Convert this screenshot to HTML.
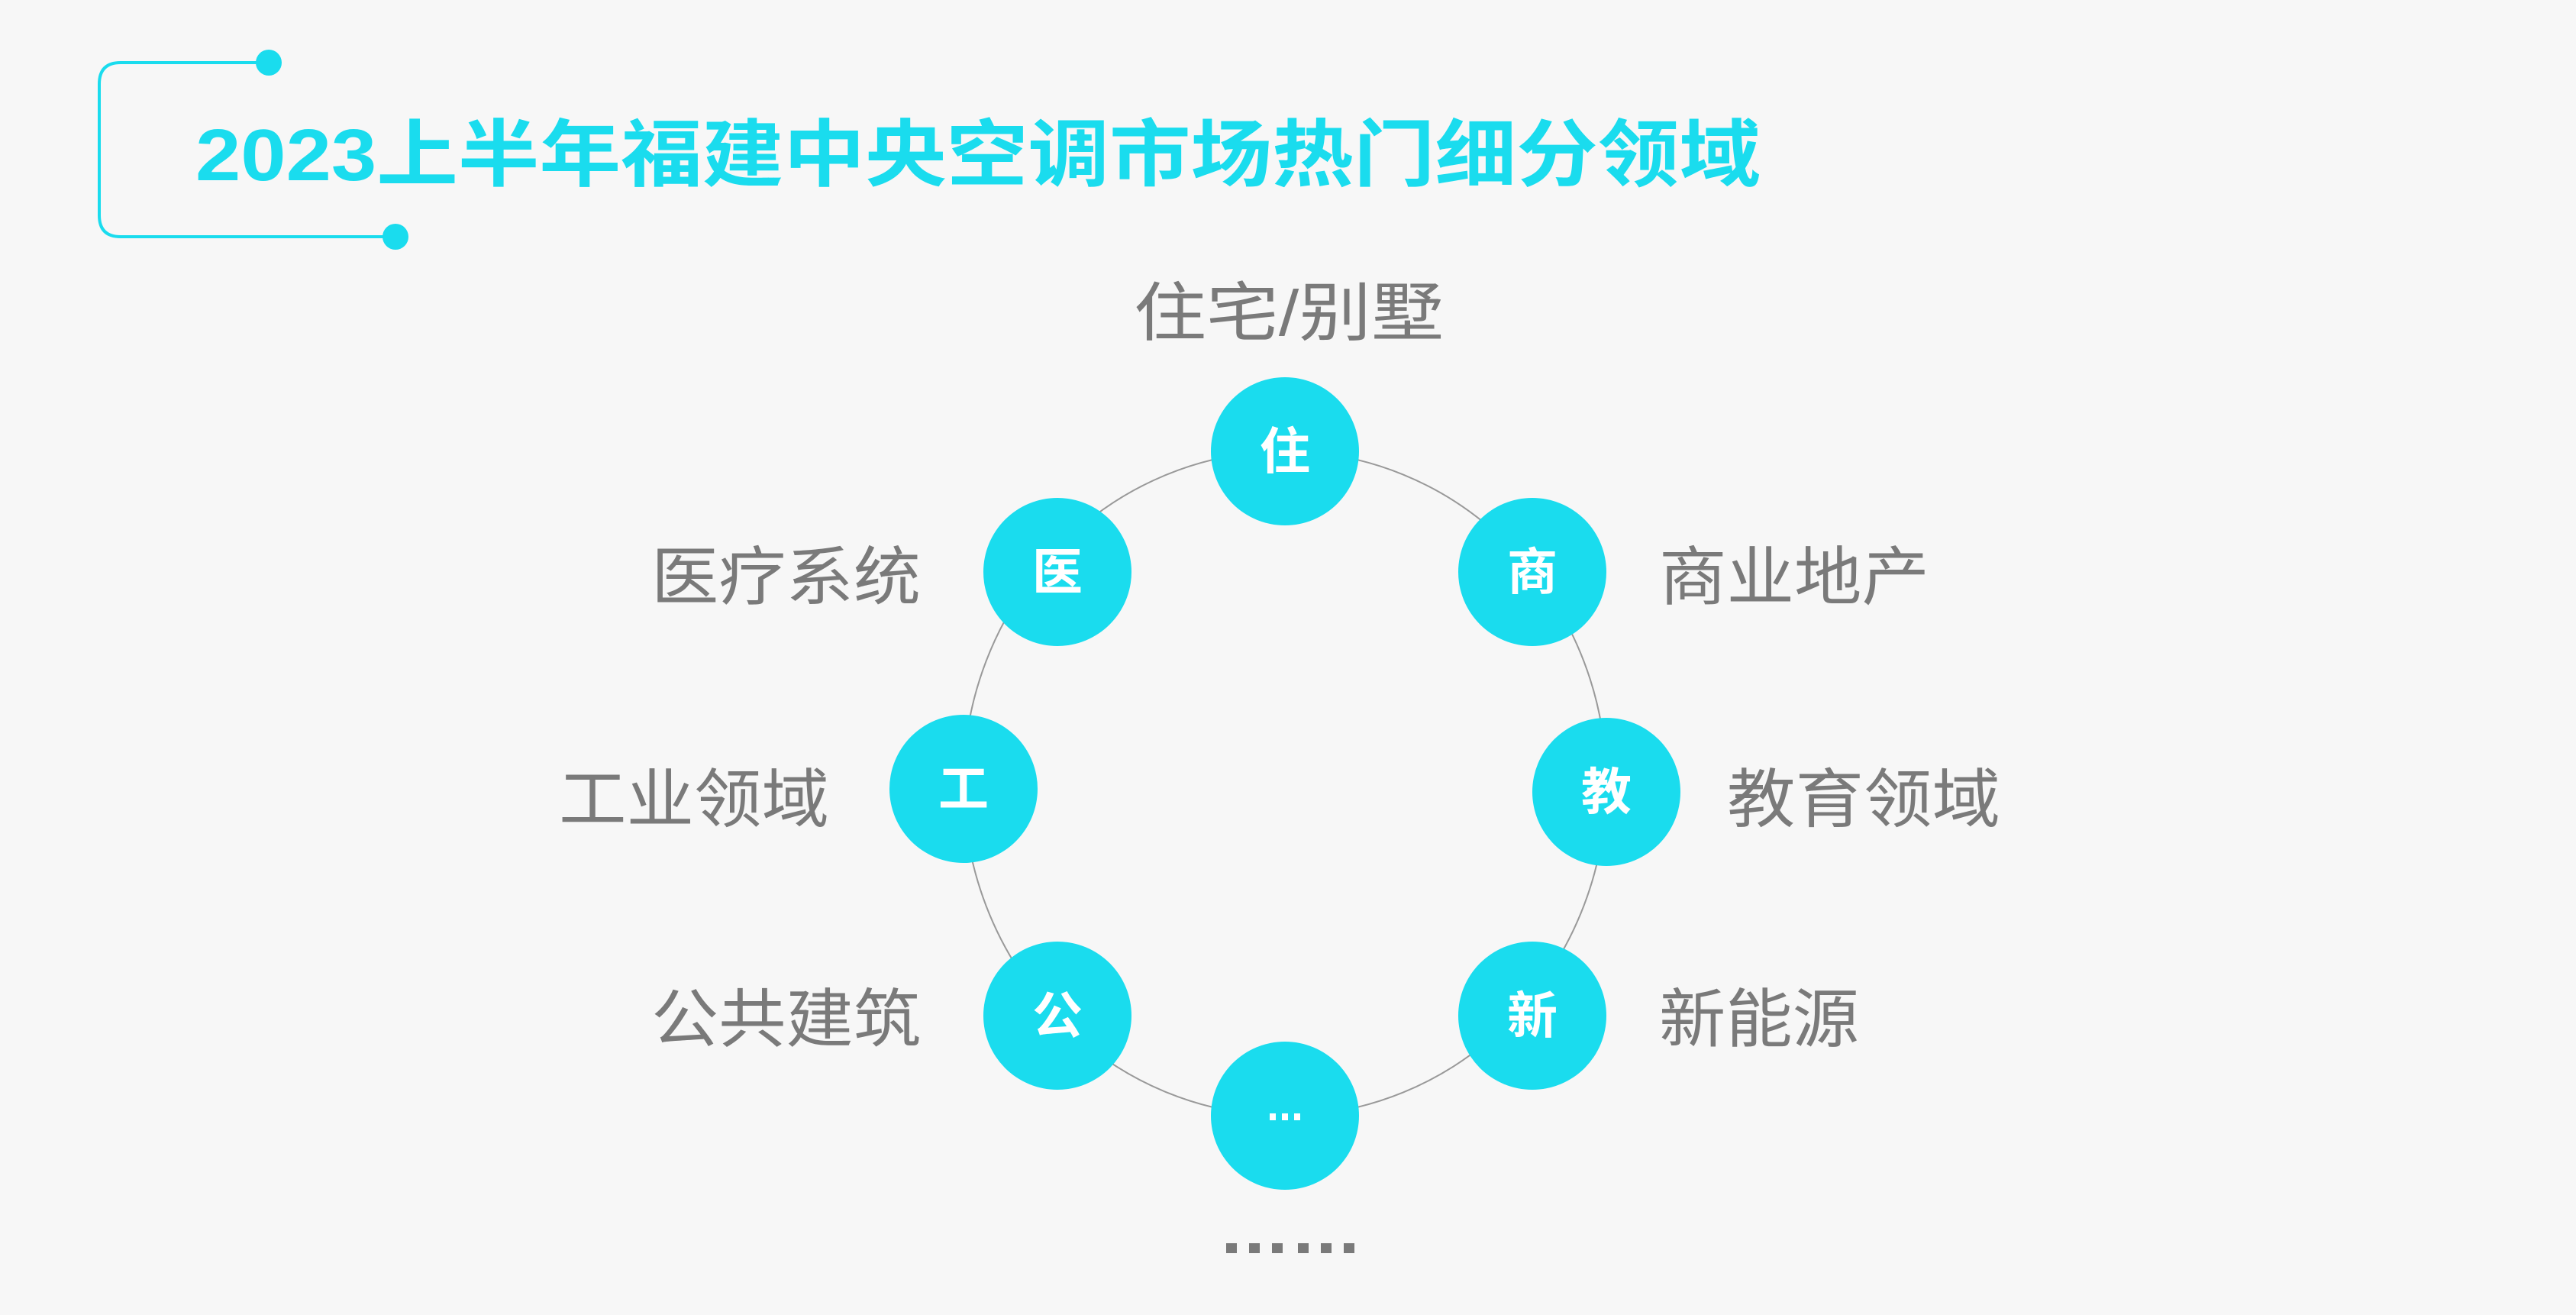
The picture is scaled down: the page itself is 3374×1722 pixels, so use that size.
<!DOCTYPE html>
<html><head><meta charset="utf-8"><style>
html,body{margin:0;padding:0;background:#f7f7f7;}
svg{display:block}
</style></head><body>
<svg width="3374" height="1722" viewBox="0 0 3374 1722" xmlns="http://www.w3.org/2000/svg">
<rect width="3374" height="1722" fill="#f7f7f7"/>
<g stroke="#1adcee" stroke-width="4" fill="none">
<path d="M352 82 H158 Q130 82 130 110 V282 Q130 310 158 310 H518"/>
</g>
<circle cx="352" cy="82" r="17" fill="#1adcee"/>
<circle cx="518" cy="310" r="17" fill="#1adcee"/>
<text x="256" y="236" font-family="Liberation Sans, Noto Sans CJK SC, sans-serif" font-weight="bold" font-size="96" fill="#1adcee" textLength="2050" lengthAdjust="spacingAndGlyphs">2023上半年福建中央空调市场热门细分领域</text>
<ellipse cx="1683" cy="1026" rx="421" ry="435" fill="none" stroke="#999" stroke-width="2"/>
<g fill="#1adcee">
<circle cx="1683" cy="591" r="97"/>
<circle cx="2007" cy="749" r="97"/>
<circle cx="2104" cy="1037" r="97"/>
<circle cx="2007" cy="1330" r="97"/>
<circle cx="1683" cy="1461" r="97"/>
<circle cx="1385" cy="1330" r="97"/>
<circle cx="1262" cy="1033" r="97"/>
<circle cx="1385" cy="749" r="97"/>
</g>
<g font-family="Liberation Sans, Noto Sans CJK SC, sans-serif" font-weight="bold" font-size="66" fill="#fff" text-anchor="middle">
<text x="1683" y="614">住</text>
<text x="2007" y="772">商</text>
<text x="2104" y="1060">教</text>
<text x="2007" y="1353">新</text>
<text x="1385" y="1353">公</text>
<text x="1262" y="1056">工</text>
<text x="1385" y="772">医</text>
</g>
<g fill="#fff"><rect x="1663" y="1458" width="8" height="9"/><rect x="1679" y="1458" width="8" height="9"/><rect x="1695" y="1458" width="8" height="9"/></g>
<g font-family="Liberation Sans, Noto Sans CJK SC, sans-serif" font-size="84" fill="#7a7a7a">
<text x="1485" y="439" textLength="406" lengthAdjust="spacingAndGlyphs">住宅/别墅</text>
<text x="853" y="785" textLength="353" lengthAdjust="spacingAndGlyphs">医疗系统</text>
<text x="2173" y="785" textLength="354" lengthAdjust="spacingAndGlyphs">商业地产</text>
<text x="732" y="1076" textLength="354" lengthAdjust="spacingAndGlyphs">工业领域</text>
<text x="2262" y="1076" textLength="358" lengthAdjust="spacingAndGlyphs">教育领域</text>
<text x="853" y="1364" textLength="353" lengthAdjust="spacingAndGlyphs">公共建筑</text>
<text x="2173" y="1364" textLength="262" lengthAdjust="spacingAndGlyphs">新能源</text>
</g>
<g fill="#7a7a7a">
<rect x="1606" y="1628" width="14" height="13"/><rect x="1636" y="1628" width="14" height="13"/><rect x="1666" y="1628" width="14" height="13"/>
<rect x="1700" y="1628" width="14" height="13"/><rect x="1730" y="1628" width="14" height="13"/><rect x="1760" y="1628" width="14" height="13"/>
</g>
</svg>
</body></html>
